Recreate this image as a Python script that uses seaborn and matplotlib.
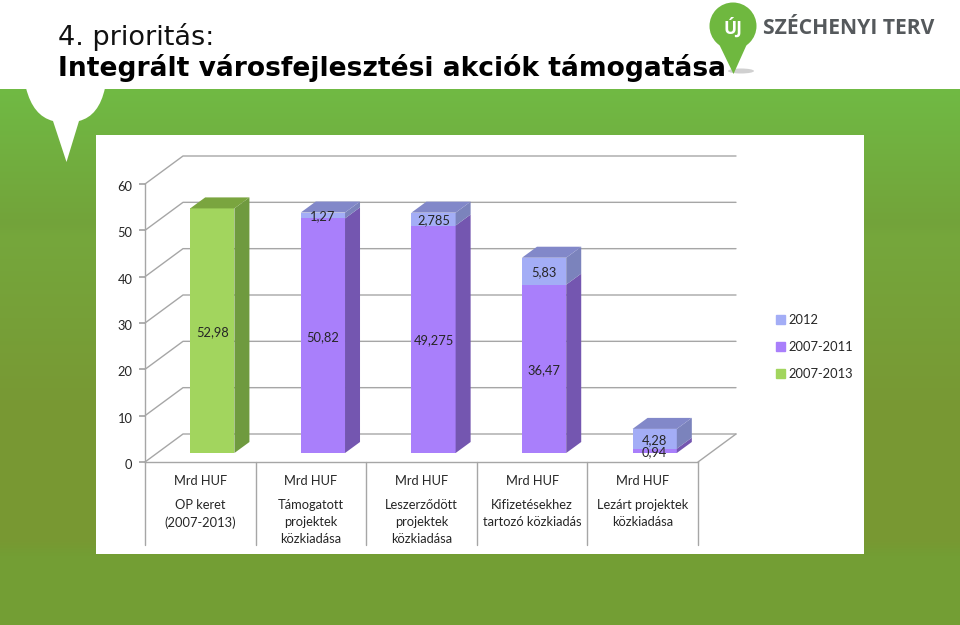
import matplotlib
matplotlib.use("Agg")
import matplotlib.pyplot as plt
import matplotlib.transforms as mtrans
import numpy as np
import seaborn as sns
from matplotlib.patches import Circle, Ellipse, Patch, PathPatch, Polygon, Rectangle
from matplotlib.path import Path

categories = ["OP keret\n(2007-2013)", "Támogatott\nprojektek\nközkiadása",
              "Leszerződött\nprojektek\nközkiadása", "Kifizetésekhez\ntartozó közkiadás",
              "Lezárt projektek\nközkiadása"]
unit_labels = ["Mrd HUF", "Mrd HUF", "Mrd HUF", "Mrd HUF", "Mrd HUF"]
keret = [52.98, 0, 0, 0, 0]
multi = [0, 50.82, 49.275, 36.47, 0.94]
ev2012 = [0, 1.27, 2.785, 5.83, 4.28]
keret_labels = ["52,98", "", "", "", ""]
multi_labels = ["", "50,82", "49,275", "36,47", "0,94"]
ev2012_labels = ["", "1,27", "2,785", "5,83", "4,28"]
y_ticks = [0, 10, 20, 30, 40, 50, 60]
legend_names = ["2012", "2007-2011", "2007-2013"]

W, H = 960, 625
GRID = "#a6a6a6"
TXT = "#262626"
FS = 9.3

sns.set_theme(style="white")
plt.rcParams["font.family"] = ["Lato", "DejaVu Sans"]

fig = plt.figure(figsize=(W / 100, H / 100), dpi=100)


def rect(left, top, right, bottom):
    return [left / W, 1 - bottom / H, (right - left) / W, (bottom - top) / H]


# slide background in pixel coordinates
bg = fig.add_axes([0, 0, 1, 1])
bg.axis("off")
stops = np.array([[89, 112, 186, 68], [225, 115, 163, 58], [235, 117, 167, 60], [400, 120, 153, 52],
                  [540, 120, 152, 50], [556, 115, 158, 52], [625, 115, 158, 52]])
yy = np.linspace(89, 625, 536)
grad = np.stack([np.interp(yy, stops[:, 0], stops[:, i]) for i in (1, 2, 3)], axis=1)[:, None, :] / 255
bg.imshow(grad, extent=(0, W, H, 89), aspect="auto", zorder=0)
bg.set_xlim(0, W)
bg.set_ylim(H, 0)
bg.add_patch(Rectangle((96, 135), 768, 419, fc="white", ec="none", zorder=1))

# drop shape cut into the band
drop = Path([(26, 88), (33, 116), (53, 121), (66.5, 162), (79, 121), (99, 116), (105, 88), (26, 88)],
            [Path.MOVETO, Path.CURVE3, Path.CURVE3, Path.LINETO, Path.LINETO, Path.CURVE3,
             Path.CURVE3, Path.CLOSEPOLY])
bg.add_patch(PathPatch(drop, fc="white", ec="none", zorder=2))

# logo
bg.add_patch(Ellipse((741, 71), 26, 5, fc="#bdbdbd", ec="none", alpha=0.7, zorder=2))
bg.add_patch(Circle((733, 26), 23.5, fc="#6fb83f", ec="none", zorder=3))
bg.add_patch(Polygon([(719, 44), (747, 44), (733.5, 74)], fc="#6fb83f", ec="none", zorder=3))
bg.text(733, 28, "ÚJ", color="white", fontsize=12.5, fontweight="bold", ha="center", va="center",
        family="Open Sans", zorder=4)
bg.text(763, 28, "SZÉCHENYI TERV", color="#55595c", fontsize=15.2, fontweight="bold", ha="left",
        va="center", family="Open Sans", zorder=4)
bg.text(58, 37, "4. prioritás:", color="#111111", fontsize=19.5, family="DejaVu Sans", va="center")
bg.text(58, 68, "Integrált városfejlesztési akciók támogatása", color="black", fontsize=19.1,
        fontweight="bold", family="DejaVu Sans", va="center", zorder=4)

# front plane carries the axis, back wall and floor
front = fig.add_axes(rect(145, 184, 698, 462), facecolor="none")
front.set_xlim(-0.5, 4.5)
front.set_ylim(0, 60)
for s in ("top", "right"):
    front.spines[s].set_visible(False)
for s in ("left", "bottom"):
    front.spines[s].set_color(GRID)
    front.spines[s].set_linewidth(1)
front.set_yticks(y_ticks)
front.set_yticklabels([str(v) for v in y_ticks], fontsize=FS, color=TXT)
front.set_xticks(range(5))
front.set_xticklabels(unit_labels, fontsize=FS, color=TXT)
front.tick_params(axis="y", length=4, color=GRID, pad=5, left=True)
front.tick_params(axis="x", length=0, pad=9.5, bottom=False)
shift = mtrans.ScaledTranslation(0, -2 / 100, fig.dpi_scale_trans)
for t in front.get_yticklabels():
    t.set_transform(t.get_transform() + shift)

dx_wall = 38 / 110.6
dy_wall = 28 / (278 / 60)
for v in y_ticks:
    front.plot([-0.5, -0.5 + dx_wall, 4.5 + dx_wall], [v, v + dy_wall, v + dy_wall],
               color=GRID, lw=1, clip_on=False, zorder=1)
front.plot([4.5, 4.5 + dx_wall], [0, dy_wall], color=GRID, lw=1, clip_on=False, zorder=1)

for i, name in enumerate(categories):
    front.annotate(name, (i, 0), xytext=(0, -26.8), textcoords="offset points", ha="center", va="top",
                   fontsize=FS, color=TXT, linespacing=1.5, annotation_clip=False)
for x in np.arange(-0.5, 5):
    front.plot([x, x], [0, -83 * 60 / 278], color=GRID, lw=1, clip_on=False)

# bars live on a plane set back from the front edge
ax = fig.add_axes(rect(157, 176, 710, 453), facecolor="none")
sns.barplot(x=categories, y=keret, color="#a2d55e", saturation=1, width=0.4, linewidth=0, ax=ax)
sns.barplot(x=categories, y=multi, color="#a97ffb", saturation=1, width=0.4, linewidth=0, ax=ax)
sns.barplot(x=categories, y=ev2012, bottom=multi, color="#a3adf6", saturation=1, width=0.4, linewidth=0, ax=ax)
ax.set_xlim(-0.5, 4.5)
ax.set_ylim(0, 60)
ax.axis("off")

dx = 15 / 110.6
dy = 11 * 60 / 277
faces = [("#6f9a3f", "#7aa53f", True), ("#7456b0", None, False), ("#7b83bc", "#8288c9", True)]
texts = [keret_labels, multi_labels, ev2012_labels]
for cont, (side, top, has_top), labs in zip(ax.containers, faces, texts):
    for bar in cont:
        if bar.get_height() <= 0:
            continue
        x0, x1 = bar.get_x(), bar.get_x() + bar.get_width()
        y0, y1 = bar.get_y(), bar.get_y() + bar.get_height()
        ax.add_patch(Polygon([(x1, y0), (x1 + dx, y0 + dy), (x1 + dx, y1 + dy), (x1, y1)],
                             fc=side, ec="none", clip_on=False, zorder=3))
        if has_top:
            ax.add_patch(Polygon([(x0, y1), (x1, y1), (x1 + dx, y1 + dy), (x0 + dx, y1 + dy)],
                                 fc=top, ec="none", clip_on=False, zorder=3))
    ax.bar_label(cont, labels=labs, label_type="center", fontsize=FS, color=TXT, padding=-0.7, zorder=5)
for p in ax.patches:
    p.set_clip_on(False)

handles = [Patch(color="#a3adf6"), Patch(color="#a97ffb"), Patch(color="#a2d55e")]
fig.legend(handles, legend_names, loc="upper left", bbox_to_anchor=(773.6 / W, 1 - 311 / H), frameon=False,
           fontsize=FS, handlelength=0.7, handleheight=0.7, handletextpad=0.28, labelspacing=1.17,
           labelcolor=TXT, borderpad=0.2, borderaxespad=0)

fig.savefig("out.png", dpi=100)
